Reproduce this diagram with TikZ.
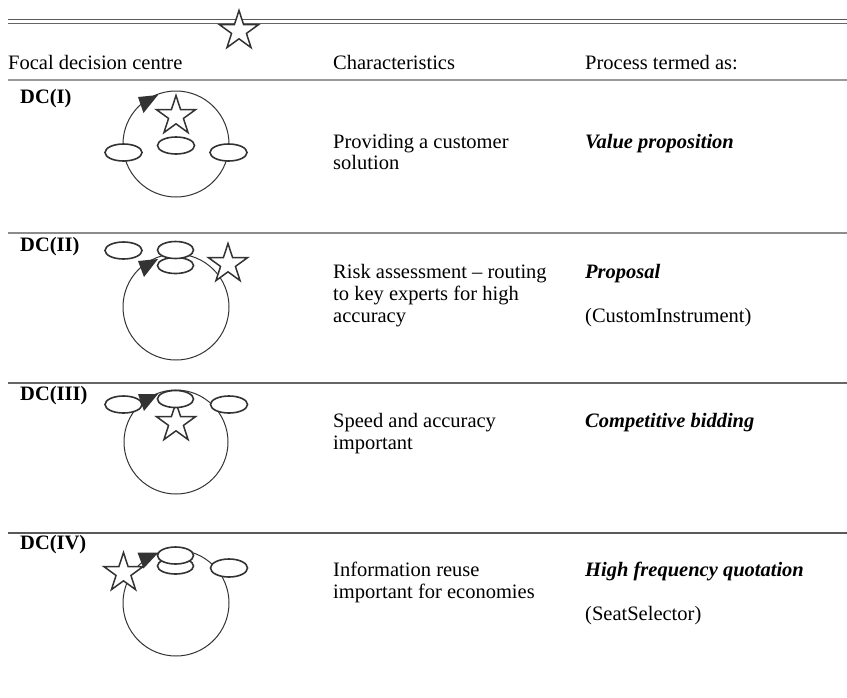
\documentclass[tikz,border=0pt]{standalone}
\usepackage{fontspec}
\setmainfont{Liberation Serif}
\usetikzlibrary{shapes.geometric}
\tikzset{
  txt/.style={anchor=base west, inner sep=0pt, font=\fontsize{20.5}{24}\selectfont},
  lbl/.style={txt, font=\fontsize{20.5}{24}\selectfont\bfseries},
  proc/.style={txt, font=\fontsize{20.5}{24}\selectfont\bfseries\itshape},
  ring/.style={draw=black!80, line width=1pt},
  ell/.style={draw=black!80, line width=1.6pt, fill=white},
  starshape/.style={star, star points=5, star point ratio=2.618, minimum size=41pt,
    inner sep=0pt, draw=black!80, line width=1.5pt, fill=white},
  tipfill/.style={fill=black!80},
  rulethin/.style={line width=1.5pt, draw=gray}
}
\begin{document}
\begin{tikzpicture}[x=1pt,y=-1pt]
\useasboundingbox (0,0) rectangle (847,697);
% rules
\draw[line width=1.6pt, draw=black!65] (8,19.5) -- (847,19.5);
\draw[line width=0.9pt, draw=black!60] (8,23.5) -- (847,23.5);
\draw[line width=2.5pt, draw=gray!80] (8,80) -- (847,80);
\draw[rulethin, draw=gray!90] (8,233) -- (847,233);
\draw[rulethin, draw=black!60] (8,383) -- (847,383);
\draw[rulethin, draw=black!65] (8,533) -- (847,533);
% header
\node[txt] (h1) at (8,69) {Focal decision centre};
\node[txt] (h2) at (333,69) {Characteristics};
\node[txt] (h3) at (585,69) {Process termed as:};
\node[starshape] (hs) at (239,31) {};
% row I
\node[lbl] (l1) at (20,103) {DC(I)};
\draw[ring] (176,144) circle [radius=53];
\node[starshape] (s1) at (176,116) {};
\fill[tipfill] (138,97) -- (158,95) -- (143.5,113) -- cycle;
\draw[ell] (123.5,152.5) ellipse [x radius=18.5, y radius=8.5];
\draw[ell] (176,145.5) ellipse [x radius=18.5, y radius=8.5];
\draw[ell] (228.5,152.5) ellipse [x radius=18.5, y radius=8.5];
\node[txt] (c1a) at (333,148) {Providing a customer};
\node[txt] (c1b) at (333,169) {solution};
\node[proc] (p1) at (585,148) {Value proposition};
% row II
\node[lbl] (l2) at (20,251) {DC(II)};
\draw[ring] (176,307) circle [radius=53];
\node[starshape] (s2) at (228,264) {};
\fill[tipfill] (138,261) -- (158,259) -- (144,277) -- cycle;
\draw[ell] (123.5,250.5) ellipse [x radius=18.5, y radius=8.5];
\draw[ell] (175.5,265.5) ellipse [x radius=18, y radius=8];
\draw[ell] (175.5,250) ellipse [x radius=18, y radius=8.5];
\node[txt] (c2a) at (333,278) {Risk assessment -- routing};
\node[txt] (c2b) at (333,300) {to key experts for high};
\node[txt] (c2c) at (333,322) {accuracy};
\node[proc] (p2) at (585,278) {Proposal};
\node[txt] (p2b) at (585,322) {(CustomInstrument)};
% row III
\node[lbl] (l3) at (20,400) {DC(III)};
\draw[ring] (176,442) circle [radius=52];
\node[starshape] (s3) at (176,423) {};
\draw[ell] (123.5,404.5) ellipse [x radius=18.5, y radius=8.5];
\draw[ell] (229,404.5) ellipse [x radius=18.5, y radius=8.5];
\draw[ell] (175.5,399) ellipse [x radius=18, y radius=8.5];
\fill[tipfill] (138,394) -- (158,394) -- (144,411) -- cycle;
\node[txt] (c3a) at (333,427) {Speed and accuracy};
\node[txt] (c3b) at (333,449) {important};
\node[proc] (p3) at (585,427) {Competitive bidding};
% row IV
\node[lbl] (l4) at (20,549) {DC(IV)};
\draw[ring] (176,603) circle [radius=53];
\node[starshape] (s4) at (123.5,573) {};
\fill[tipfill] (137.5,552.5) -- (158.5,552.5) -- (143.5,568.5) -- cycle;
\draw[ell] (229,568) ellipse [x radius=18.5, y radius=9];
\draw[ell] (175.5,566) ellipse [x radius=18, y radius=8];
\draw[ell] (175.5,555.5) ellipse [x radius=18, y radius=8.5];
\node[txt] (c4a) at (333,576) {Information reuse};
\node[txt] (c4b) at (333,598) {important for economies};
\node[proc] (p4) at (585,576) {High frequency quotation};
\node[txt] (p4b) at (585,620) {(SeatSelector)};
\end{tikzpicture}
\end{document}
